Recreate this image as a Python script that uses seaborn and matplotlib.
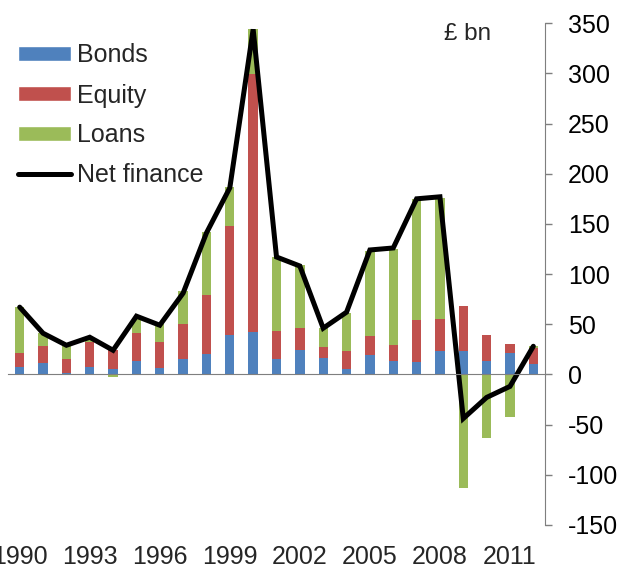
import numpy as np
import matplotlib
matplotlib.use("Agg")
import matplotlib.pyplot as plt
from matplotlib.patches import Patch
from matplotlib.lines import Line2D
import seaborn as sns

# Data (£ bn)
years = list(range(1990, 2013))
bonds = [7, 11, 1.5, 7, 5, 13, 6, 15, 20, 39, 42, 15, 24, 16, 5, 19, 13, 12, 23, 23, 13, 21, 10]
equity = [14, 17, 14, 25, 19, 28, 26, 35, 59, 109, 257, 28, 22, 11, 18, 19, 16, 42, 32, 45, 26, 9, 16]
loans = [46, 13, 13, 2, -3, 15, 18, 33, 63, 39, 45, 74, 63, 19, 38, 85, 96, 121, 121, -113, -63, -43, 2]
net_finance = [67, 41, 29, 37, 24, 58, 49, 81, 141, 186, 344, 117, 108, 46, 62, 124, 126, 175, 177, -44, -23, -12, 28]

c_bonds = "#4F81BD"
c_equity = "#C0504D"
c_loans = "#9BBB59"
c_axis = "#7F7F7F"

sns.set_style("white")
plt.rcParams["font.family"] = ["Liberation Sans", "DejaVu Sans"]
plt.rcParams["axes.unicode_minus"] = False

fig = plt.figure(figsize=(6.22, 5.72), dpi=100)
ax = fig.add_axes([0.0129, 0.0825, 0.8633, 0.8768])

# stacked bars drawn as layers (tallest first); negative loans hang from zero
b = np.array(bonds, dtype=float)
be = b + np.array(equity, dtype=float)
ln = np.array(loans, dtype=float)
loans_layer = np.where(ln > 0, be + ln, ln)

for vals, col in [(loans_layer, c_loans), (be, c_equity), (b, c_bonds)]:
    sns.barplot(x=years, y=vals, color=col, width=0.4, saturation=1,
                linewidth=0, errorbar=None, ax=ax)

sns.pointplot(x=years, y=net_finance, color="black", markers="", linestyles="-",
              errorbar=None, linewidth=3.6, ax=ax)
for ln2 in ax.lines:
    ln2.set_solid_joinstyle("miter")

ax.set_xlim(-0.5, len(years) - 0.5)
ax.set_ylim(-150, 350)

# right-hand value axis
ax.yaxis.tick_right()
ax.set_yticks(range(-150, 351, 50))
ax.spines["right"].set_visible(True)
ax.spines["right"].set_color(c_axis)
ax.spines["right"].set_bounds(-150, 350)
ax.spines["left"].set_visible(False)
ax.spines["top"].set_visible(False)
ax.tick_params(axis="y", direction="out", length=5, width=1, color=c_axis,
               pad=11.5, labelsize=18, labelcolor="black")

# category axis along zero
ax.spines["bottom"].set_position(("data", 0))
ax.spines["bottom"].set_color(c_axis)
ax.set_xticks(range(0, len(years), 3))
ax.set_xticklabels([str(y) for y in years[::3]])
ax.set_xticks(np.arange(-0.5, len(years), 3), minor=True)
ax.tick_params(axis="x", which="major", length=0, pad=123, labelsize=18)
ax.tick_params(axis="x", which="minor", direction="in", length=5, width=1, color=c_axis)
ax.set_xlabel("")
ax.set_ylabel("")

ax.text(0.812, 0.978, "£ bn", transform=ax.transAxes, fontsize=17.5,
        ha="left", va="center")

handles = [Patch(facecolor=c_bonds, label="Bonds"),
           Patch(facecolor=c_equity, label="Equity"),
           Patch(facecolor=c_loans, label="Loans"),
           Line2D([], [], color="black", lw=3.6, label="Net finance")]
fig.legend(handles=handles, loc="upper left", bbox_to_anchor=(18 / 622, 1 - 43.5 / 572),
           frameon=False, fontsize=18, handlelength=2.1, handleheight=0.52,
           handletextpad=0.25, labelspacing=0.64, borderpad=0, borderaxespad=0)

fig.savefig("out.png", dpi=100)
